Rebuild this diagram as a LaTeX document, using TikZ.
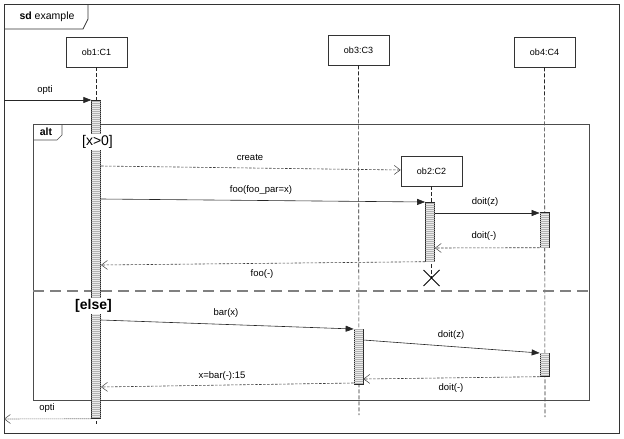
\documentclass[tikz,border=0pt]{standalone}
\usepackage{fontspec}
\setmainfont{Liberation Sans}
\usetikzlibrary{arrows.meta,patterns.meta,calc}
\tikzset{
  every node/.style={font=\fontsize{9.5}{11}\selectfont},
  objbox/.style={draw=black!80,line width=0.7pt,fill=white,minimum width=61pt,minimum height=30pt,inner sep=0pt,font=\fontsize{9}{11}\selectfont},
  actbar/.style={draw=black!85,line width=0.7pt,minimum width=9pt,inner sep=0pt,anchor=north,
    fill=black!8,postaction={pattern={Lines[angle=0,distance=2pt,line width=0.6pt]},pattern color=black!30}},
  lifeline/.style={black!85,line width=0.6pt,dash pattern=on 4pt off 2pt},
  syncmsg/.style={black!85,line width=0.6pt,-{Triangle[length=8pt,width=6pt]}},
  replymsg/.style={black!75,line width=0.6pt,dash pattern=on 2.5pt off 1.5pt,-{Straight Barb[length=6pt,width=9pt,line width=0.5pt]}},
  lostmsg/.style={black!75,line width=0.6pt,dash pattern=on 1pt off 1pt,-{Straight Barb[length=6pt,width=9pt,line width=0.5pt]}},
  guard/.style={fill=white,inner sep=1pt,font=\fontsize{14}{16}\selectfont},
  framelbl/.style={font=\fontsize{10.5}{12}\selectfont},
}
\begin{document}
\begin{tikzpicture}[x=1pt,y=-1pt]
\useasboundingbox (0,0) rectangle (624,439);
% outer frame
\draw[black!80,line width=0.8pt] (4,4) rectangle (619,433);
\draw[black!80,line width=0.7pt] (4,29) -- (83,29) -- (88,19) -- (88,4);
\node[framelbl] (sdlbl) at (47,16.5) {\textbf{sd} example};

% objects
\node[objbox] (ob1) at (96.5,52) {ob1:C1};
\node[objbox] (ob3) at (358.5,50) {ob3:C3};
\node[objbox] (ob4) at (544.5,52) {ob4:C4};

% lifelines
\coordinate (ob1end) at (96.5,424);
\coordinate (ob3end) at (359,415);
\coordinate (ob4end) at (545,417);
\draw[lifeline] (ob1.south) -- (ob1end);
\draw[lifeline] (ob3.south) -- (ob3end);
\draw[lifeline] (ob4.south) -- (ob4end);

% alt frame
\draw[black!70,line width=0.8pt] (33,124) rectangle (589,400);
\draw[black!70,line width=0.7pt] (33,140) -- (57,140) -- (62,135) -- (62,124);
\node[framelbl] (altlbl) at (46,132) {\textbf{alt}};
\coordinate (sepL) at (33,291);
\coordinate (sepR) at (589,291);
\draw[black!50,line width=1.3pt,dash pattern=on 11pt off 6pt] (sepL) -- (sepR);

% ob2 created
\node[objbox] (ob2) at (431.5,171) {ob2:C2};
\coordinate (xmark) at (431.5,278);
\draw[lifeline] (ob2.south) -- (xmark);
\draw[black,line width=0.8pt] ($(xmark)+(-8,-8)$) -- ($(xmark)+(8,8)$);
\draw[black,line width=0.8pt] ($(xmark)+(-8,8)$) -- ($(xmark)+(8,-8)$);

% activation bars
\node[actbar,minimum height=318pt] (act1) at (96.2,100) {};
\node[actbar,minimum height=59pt] (act2) at (430,202) {};
\node[actbar,minimum height=35pt] (act4a) at (544.5,212) {};
\node[actbar,minimum height=55pt] (act3) at (358.5,329) {};
\node[actbar,minimum height=23pt] (act4b) at (544.5,353) {};

% guards
\node[guard] (g1) at (97.5,142) {[x>0]};
\node[guard,font=\fontsize{14}{16}\selectfont\bfseries] (g2) at (93.5,306) {[else]};

% messages
\coordinate (inL) at (4,100);
\draw[syncmsg] (inL) -- (act1.north west);
\node (l1) at (45,90) {opti};

\draw[replymsg] (act1.east |- 0,166) -- (ob2.west |- 0,170);
\node (l2) at (250,157) {create};

\draw[syncmsg] (act1.east |- 0,199) -- (act2.north west);
\node (l3) at (261,190) {foo(foo\_par=x)};

\draw[syncmsg] (act2.east |- 0,213) -- (act4a.west |- 0,213);
\node (l4) at (485,202) {doit(z)};

\draw[replymsg] (act4a.south west) -- (act2.east |- 0,248);
\node (l5) at (484,236) {doit(-)};

\draw[replymsg] (act2.south west) -- (act1.east |- 0,265);
\node (l6) at (262,274) {foo(-)};

\draw[syncmsg] (act1.east |- 0,320) -- (act3.north west);
\node (l7) at (226,313) {bar(x)};

\draw[syncmsg] (act3.east |- 0,340) -- (act4b.north west);
\node (l8) at (451,335) {doit(z)};

\draw[replymsg] (act4b.south west) -- (act3.east |- 0,379);
\node (l9) at (451,388) {doit(-)};

\draw[replymsg] (act3.west |- 0,383) -- (act1.east |- 0,387);
\node (l10) at (222,376) {x=bar(-):15};

\coordinate (outL) at (4,419);
\draw[lostmsg] (act1.south west) -- (outL);
\node (l11) at (47,408) {opti};
\end{tikzpicture}
\end{document}
